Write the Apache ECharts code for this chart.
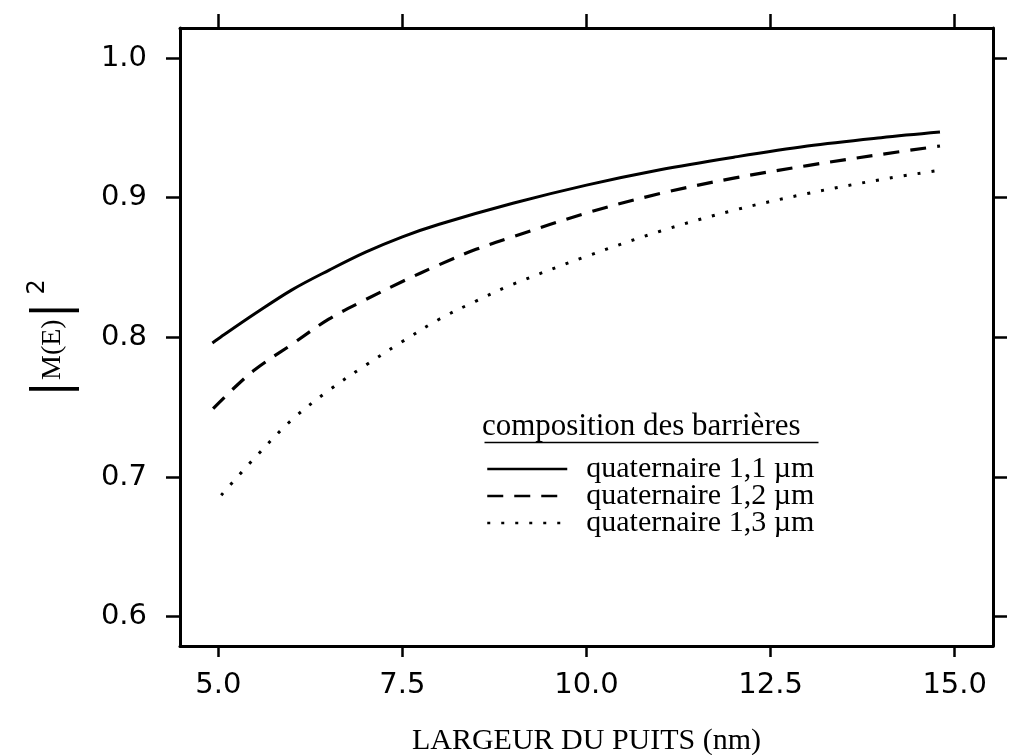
<!DOCTYPE html>
<html>
<head>
<meta charset="utf-8">
<script src="https://cdn.jsdelivr.net/npm/echarts@6/dist/echarts.min.js"></script>
<style>
html,body{margin:0;padding:0;background:#fff;}
#c{width:1010px;height:755px;}
</style>
</head>
<body>
<div id="c"></div>
<script>
// Data
var seriesNames = ['quaternaire 1,1 µm', 'quaternaire 1,2 µm', 'quaternaire 1,3 µm'];
var xTicks = [5.0, 7.5, 10.0, 12.5, 15.0];
var yTicks = [0.6, 0.7, 0.8, 0.9, 1.0];
var solid11 = [[4.92,0.796],[5.0,0.799],[5.5,0.817],[6.0,0.834],[6.5,0.848],[7.0,0.861],[7.5,0.872],[8.0,0.881],[9.0,0.896],[10.0,0.909],[11.0,0.920],[12.0,0.929],[13.0,0.937],[14.0,0.943],[14.8,0.947]];
var dashed12 = [[4.93,0.749],[5.2,0.763],[5.5,0.777],[6.0,0.795],[6.5,0.813],[7.0,0.827],[7.5,0.840],[8.0,0.852],[8.5,0.863],[9.0,0.872],[10.0,0.889],[11.0,0.903],[12.0,0.914],[13.0,0.923],[14.0,0.931],[14.8,0.937]];
var dotted13 = [[5.04,0.687],[5.5,0.714],[6.0,0.741],[6.5,0.762],[7.0,0.780],[7.5,0.797],[8.0,0.813],[8.5,0.826],[9.0,0.838],[10.0,0.858],[11.0,0.876],[12.0,0.891],[13.0,0.903],[14.0,0.913],[14.84,0.920]];
var legendTitle = 'composition des barrières';
var xName = 'LARGEUR DU PUITS (nm)';

var chart = echarts.init(document.getElementById('c'), null, {renderer: 'canvas'});
var sans = 'DejaVu Sans';
var serif = 'Liberation Serif';
var axisLineStyle = {color: '#000', width: 3};

function mkSeries(name, data, type, width) {
  return {
    name: name, type: 'line', data: data, smooth: 0.35,
    symbol: 'none', showSymbol: false,
    xAxisIndex: 0, yAxisIndex: 0,
    lineStyle: {color: '#000', width: width, type: type, cap: 'butt'},
    itemStyle: {color: '#000'},
    emphasis: {disabled: true},
    animation: false
  };
}

var option = {
  backgroundColor: '#fff',
  animation: false,
  grid: {left: 180, right: 17, top: 28, bottom: 109, containLabel: false, outerBoundsMode: 'none'},
  xAxis: [{
    type: 'value', position: 'bottom', min: 4.48, max: 15.52,
    name: xName, nameLocation: 'middle', nameGap: 80,
    nameTextStyle: {fontFamily: serif, fontSize: 30, color: '#000'},
    axisLine: {show: true, onZero: false, lineStyle: axisLineStyle},
    axisTick: {show: true, inside: false, length: 11, customValues: xTicks, lineStyle: {color: '#000', width: 2.5}},
    axisLabel: {show: true, customValues: xTicks, margin: 25, color: '#000', fontFamily: sans, fontSize: 29,
      formatter: function (v) { return v.toFixed(1); }},
    splitLine: {show: false}
  }, {
    type: 'value', position: 'top', min: 4.48, max: 15.52,
    axisLine: {show: true, onZero: false, lineStyle: axisLineStyle},
    axisTick: {show: true, inside: false, length: 14, customValues: xTicks, lineStyle: {color: '#000', width: 2.5}},
    axisLabel: {show: false},
    splitLine: {show: false}
  }],
  yAxis: [{
    type: 'value', position: 'left', min: 0.579, max: 1.0215,
    name: '{p||}{t|M(E)}{p||}{s|2}', nameLocation: 'middle', nameGap: 100, nameRotate: 90,
    nameTextStyle: {
      color: '#000',
      rich: {
        p: {fontFamily: serif, fontSize: 54, fontWeight: 'bold', color: '#000'},
        t: {fontFamily: serif, fontSize: 28, color: '#000', padding: [0, 3, 0, 3]},
        s: {fontFamily: sans, fontSize: 24, color: '#000', verticalAlign: 'top', padding: [0, 0, 0, 10]}
      }
    },
    axisLine: {show: true, onZero: false, lineStyle: axisLineStyle},
    axisTick: {show: true, inside: false, length: 14, customValues: yTicks, lineStyle: {color: '#000', width: 2.5}},
    axisLabel: {show: true, customValues: yTicks, margin: 33, color: '#000', fontFamily: sans, fontSize: 29,
      formatter: function (v) { return v.toFixed(1); }},
    splitLine: {show: false}
  }, {
    type: 'value', position: 'right', min: 0.579, max: 1.0215,
    axisLine: {show: true, onZero: false, lineStyle: axisLineStyle},
    axisTick: {show: true, inside: false, length: 14, customValues: yTicks, lineStyle: {color: '#000', width: 2.5}},
    axisLabel: {show: false},
    splitLine: {show: false}
  }],
  legend: {
    orient: 'vertical', left: 481, top: 449,
    itemWidth: 80, itemHeight: 14, itemGap: -3,
    selectedMode: false,
    data: seriesNames,
    itemStyle: {opacity: 0, borderWidth: 0},
    lineStyle: {width: 2.5},
    textStyle: {fontFamily: serif, fontSize: 30, color: '#000', lineHeight: 28, padding: [0, 0, 0, 14]}
  },
  graphic: [{
    type: 'text', left: 482, top: 411,
    style: {text: legendTitle, fontFamily: serif, fontSize: 31, fill: '#000'}
  }, {
    type: 'line', left: 482, top: 440,
    shape: {x1: 0, y1: 0, x2: 334, y2: 0},
    style: {stroke: '#000', lineWidth: 1.5}
  }],
  series: [
    mkSeries(seriesNames[0], solid11, 'solid', 3),
    mkSeries(seriesNames[1], dashed12, [16, 11], 3.2),
    mkSeries(seriesNames[2], dotted13, [3, 11], 3)
  ]
};
chart.setOption(option);
</script>
</body>
</html>
